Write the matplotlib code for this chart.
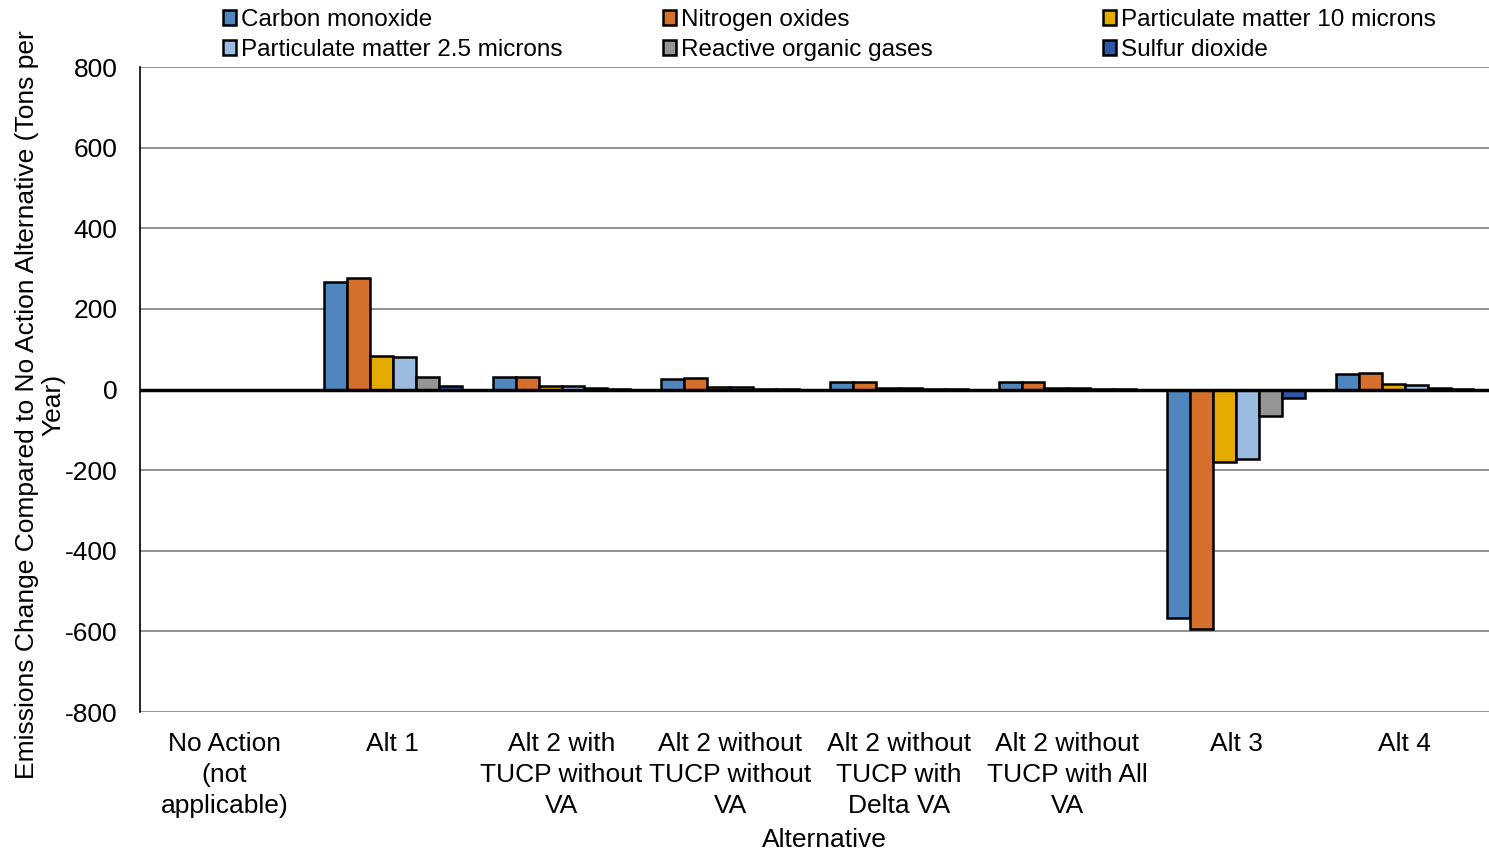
import matplotlib.pyplot as plt
import numpy as np

plt.rcParams['font.family'] = ['Liberation Sans', 'DejaVu Sans']
plt.rcParams['axes.unicode_minus'] = False

categories = ["No Action\n(not\napplicable)", "Alt 1", "Alt 2 with\nTUCP without\nVA",
              "Alt 2 without\nTUCP without\nVA", "Alt 2 without\nTUCP with\nDelta VA",
              "Alt 2 without\nTUCP with All\nVA", "Alt 3", "Alt 4"]

series_names = ["Carbon monoxide", "Nitrogen oxides", "Particulate matter 10 microns",
                "Particulate matter 2.5 microns", "Reactive organic gases", "Sulfur dioxide"]

carbon_monoxide = [0, 266, 31, 27, 18, 18, -566, 38]
nitrogen_oxides = [0, 278, 32, 28, 18, 18, -594, 40]
pm10 = [0, 84, 9, 7, 5, 5, -179, 13]
pm25 = [0, 82, 9, 7, 5, 5, -171, 11]
reactive_organic = [0, 30, 3, 2, 2, 2, -65, 3]
sulfur_dioxide = [0, 10, 1, 1, 0.5, 0.5, -22, 1]

values = [carbon_monoxide, nitrogen_oxides, pm10, pm25, reactive_organic, sulfur_dioxide]
colors = ["#4F86BD", "#D46F2C", "#E3AB00", "#9BBBE1", "#959595", "#2F57A6"]

fig = plt.figure(figsize=(14.89, 8.6), dpi=100)
ax = fig.add_axes([0.094, 0.172, 0.906, 0.75])

x = np.arange(len(categories))
width = 0.136
handles = []
for i, (vals, c, name) in enumerate(zip(values, colors, series_names)):
    offset = (i - 2.5) * width
    b = ax.bar(x + offset, vals, width, color=c, edgecolor="black", linewidth=1.8,
               label=name, zorder=3)
    handles.append(b)

ax.set_xlim(-0.5, len(categories) - 0.5)
ax.set_ylim(-800, 800)
ax.set_yticks(range(-800, 801, 200))
ax.yaxis.grid(True, color="#7f7f7f", linewidth=1.2, zorder=0)
ax.axhline(0, color="black", linewidth=2.5, zorder=4)
for s in ["top", "right", "bottom"]:
    ax.spines[s].set_visible(False)
ax.spines["left"].set_linewidth(1.2)
ax.tick_params(axis="y", length=0, labelsize=19, pad=16)
ax.tick_params(axis="x", length=0, labelsize=19, pad=14)
ax.set_xticks(x)
ax.set_xticklabels(categories, linespacing=1.38)

fig.text(824 / 1489, 1 - 840 / 860, "Alternative", fontsize=19, ha="center", va="center")
fig.text(40 / 1489, 1 - 405 / 860,
         "Emissions Change Compared to No Action Alternative (Tons per\nYear)",
         fontsize=19, rotation=90, ha="center", va="center", multialignment="center",
         linespacing=1.15)

# legend: three columns at fixed positions, two rows each
col_x = [218, 658, 1098]
for k, xpx in enumerate(col_x):
    idx = [k, k + 3]
    fig.legend([handles[i] for i in idx], [series_names[i] for i in idx],
               loc="upper left", bbox_to_anchor=(xpx / 1489, 1 - 4 / 860), frameon=False,
               fontsize=17.5, handlelength=0.55, handleheight=0.55, handletextpad=0.2,
               labelspacing=0.34, borderpad=0.2, borderaxespad=0.0)

fig.savefig("out.png", dpi=100)
